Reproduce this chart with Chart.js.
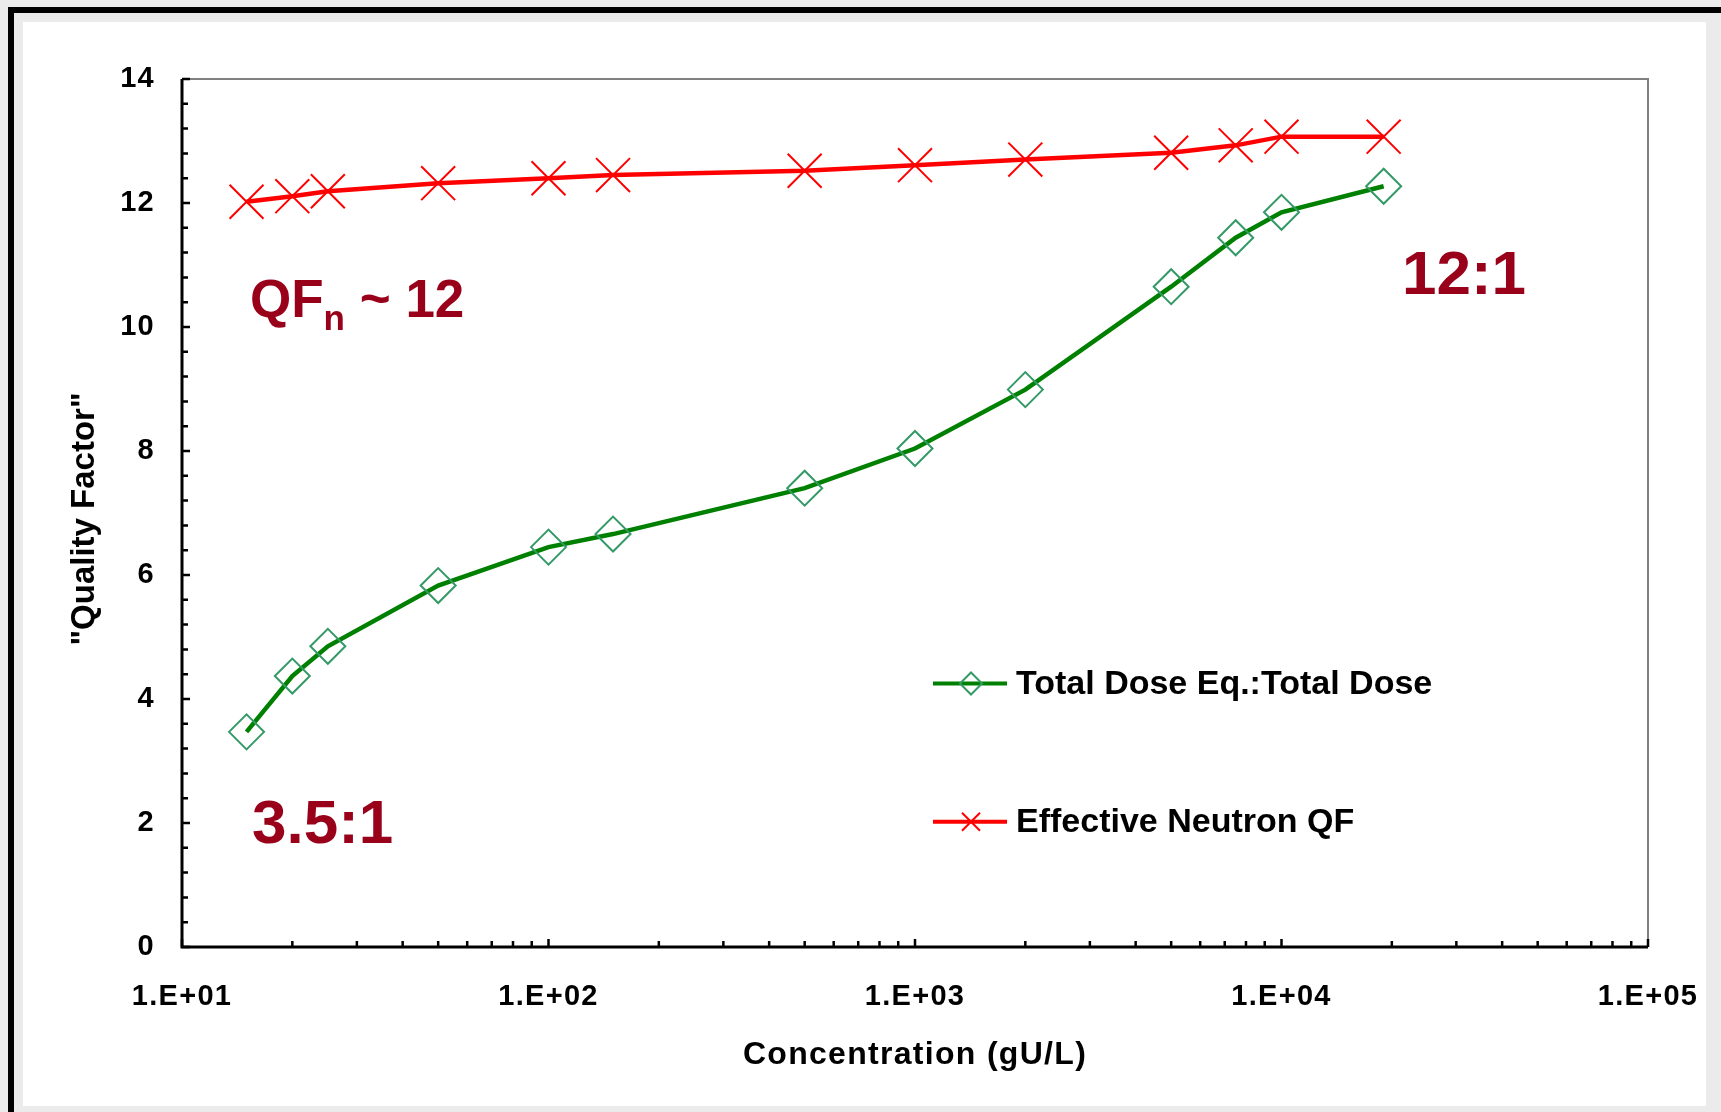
<!DOCTYPE html>
<html>
<head>
<meta charset="utf-8">
<script src="https://cdn.jsdelivr.net/npm/chart.js@4.4.1/dist/chart.umd.min.js"></script>
<style>
  html, body { margin: 0; padding: 0; background: #ebebeb; overflow: hidden; }
  #frame { position: absolute; left: 8px; top: 7px; right: 0; bottom: 0; border-top: 6px solid #000; border-left: 6px solid #000; }
  #panel { position: absolute; left: 23px; top: 22px; width: 1683px; height: 1084px; background: #fff; }
  #qf { position: absolute; left: 0; top: 0; }
</style>
</head>
<body>
<div id="frame"></div>
<div id="panel"></div>
<canvas id="qf" width="1721" height="1112"></canvas>
<script>
// concentration in gU/L
const concentration = [15, 20, 25, 50, 100, 150, 500, 1000, 2000, 5000, 7500, 10000, 19000];
// total dose equivalent : total dose
const doseRatio = [3.47, 4.37, 4.85, 5.83, 6.45, 6.66, 7.40, 8.04, 8.99, 10.65, 11.44, 11.85, 12.27];
// effective neutron QF
const neutronQF = [12.02, 12.11, 12.19, 12.32, 12.40, 12.45, 12.52, 12.61, 12.70, 12.81, 12.93, 13.07, 13.07];

const xTickValues = [10, 100, 1000, 10000, 100000];
const xTickLabels = ['1.E+01', '1.E+02', '1.E+03', '1.E+04', '1.E+05'];
const yTickValues = [0, 2, 4, 6, 8, 10, 12, 14];
const yTickLabels = ['0', '2', '4', '6', '8', '10', '12', '14'];

const seriesNames = ['Total Dose Eq.:Total Dose', 'Effective Neutron QF'];

const FONT = '"Liberation Sans", Arial, sans-serif';
const DARK_RED = '#99001a';

// axes, inner tick marks and the grey plot border
const plotFrame = {
  id: 'plotFrame',
  beforeDraw(chart) {
    chart.ctx.letterSpacing = '1.3px';
  },
  beforeDatasetsDraw(chart) {
    const ctx = chart.ctx, a = chart.chartArea;
    const xs = chart.scales.x, ys = chart.scales.y;
    ctx.save();
    ctx.letterSpacing = '0px';
    ctx.strokeStyle = '#808080';
    ctx.lineWidth = 2;
    ctx.beginPath();
    ctx.moveTo(a.left, a.top);
    ctx.lineTo(a.right, a.top);
    ctx.lineTo(a.right, a.bottom);
    ctx.stroke();

    ctx.strokeStyle = '#000';
    ctx.lineWidth = 2.5;
    ctx.beginPath();
    // y minor every 0.4, major every 2
    for (let i = 0; i <= 35; i++) {
      const py = ys.getPixelForValue(i * 0.4);
      const len = i % 5 === 0 ? 8 : 6;
      ctx.moveTo(a.left, py);
      ctx.lineTo(a.left + len, py);
    }
    // x decades and 2..9 subdivisions
    for (let d = 10; d <= 100000; d *= 10) {
      for (let m = 1; m <= 9; m++) {
        const v = d * m;
        if (v > 100000) break;
        const px = xs.getPixelForValue(v);
        const len = m === 1 ? 8 : 6;
        ctx.moveTo(px, a.bottom);
        ctx.lineTo(px, a.bottom - len);
      }
    }
    ctx.stroke();

    ctx.lineWidth = 3;
    ctx.beginPath();
    ctx.moveTo(a.left, a.top);
    ctx.lineTo(a.left, a.bottom);
    ctx.lineTo(a.right, a.bottom);
    ctx.stroke();
    ctx.restore();
  }
};

function drawDiamond(ctx, x, y, r) {
  ctx.beginPath();
  ctx.moveTo(x - r, y);
  ctx.lineTo(x, y - r);
  ctx.lineTo(x + r, y);
  ctx.lineTo(x, y + r);
  ctx.closePath();
  ctx.stroke();
}

function drawCross(ctx, x, y, h) {
  ctx.beginPath();
  ctx.moveTo(x - h, y - h);
  ctx.lineTo(x + h, y + h);
  ctx.moveTo(x + h, y - h);
  ctx.lineTo(x - h, y + h);
  ctx.stroke();
}

// y title, legend and the ratio notes
const notes = {
  id: 'notes',
  afterDraw(chart) {
    const ctx = chart.ctx, a = chart.chartArea;
    ctx.save();
    ctx.letterSpacing = '0px';

    // y axis title
    ctx.save();
    ctx.translate(84.5, a.top + 440);
    ctx.rotate(-Math.PI / 2);
    ctx.font = 'bold 33px ' + FONT;
    ctx.fillStyle = '#000';
    ctx.textAlign = 'center';
    ctx.textBaseline = 'middle';
    ctx.fillText('"Quality Factor"', 0, 0);
    ctx.restore();

    // legend
    const lx = a.left + 751, tx = a.left + 834;
    const rows = [a.top + 604.5, a.top + 742.7];
    const ds = chart.data.datasets;
    ctx.font = 'bold 34px ' + FONT;
    ctx.textBaseline = 'alphabetic';
    ctx.textAlign = 'left';
    rows.forEach((ry, i) => {
      ctx.strokeStyle = ds[i].borderColor;
      ctx.lineWidth = 4;
      ctx.beginPath();
      ctx.moveTo(lx, ry);
      ctx.lineTo(lx + 74, ry);
      ctx.stroke();
      ctx.strokeStyle = ds[i].pointBorderColor;
      ctx.lineWidth = 2;
      if (i === 0) drawDiamond(ctx, lx + 38, ry, 11);
      else drawCross(ctx, lx + 38, ry, 9);
      ctx.fillStyle = '#000';
      ctx.fillText(ds[i].label, tx, ry + 10.5);
    });

    // notes
    ctx.fillStyle = DARK_RED;
    ctx.font = 'bold 53px ' + FONT;
    let x = a.left + 68;
    const by = a.top + 238;
    ctx.fillText('QF', x, by);
    x += ctx.measureText('QF').width;
    ctx.font = 'bold 35px ' + FONT;
    ctx.fillText('n', x, by + 13);
    x += ctx.measureText('n').width;
    ctx.font = 'bold 53px ' + FONT;
    ctx.fillText(' ~ 12', x, by);

    ctx.font = 'bold 62px ' + FONT;
    ctx.fillText('12:1', a.left + 1220, a.top + 214.5);
    ctx.fillText('3.5:1', a.left + 70, a.top + 764);
    ctx.restore();
  }
};

const toPoints = vals => concentration.map((c, i) => ({ x: c, y: vals[i] }));

new Chart(document.getElementById('qf'), {
  type: 'line',
  data: {
    datasets: [
      {
        label: seriesNames[0],
        data: toPoints(doseRatio),
        borderColor: '#008000',
        borderWidth: 4.5,
        tension: 0,
        pointStyle: 'rectRot',
        pointRadius: 17.5,
        pointBorderColor: '#339966',
        pointBackgroundColor: 'rgba(0,0,0,0)',
        pointBorderWidth: 2,
        clip: false
      },
      {
        label: seriesNames[1],
        data: toPoints(neutronQF),
        borderColor: '#ff0000',
        borderWidth: 4.5,
        tension: 0,
        pointStyle: 'crossRot',
        pointRadius: 24,
        pointBorderColor: '#ff0000',
        pointBorderWidth: 2,
        clip: false
      }
    ]
  },
  options: {
    responsive: false,
    devicePixelRatio: 1,
    animation: false,
    events: [],
    layout: { padding: { left: 0, top: 79, right: 73, bottom: 0 } },
    plugins: {
      legend: { display: false },
      tooltip: { enabled: false }
    },
    scales: {
      x: {
        type: 'logarithmic',
        min: 10,
        max: 100000,
        grid: { display: false, drawTicks: false },
        border: { display: false },
        afterBuildTicks: s => { s.ticks = xTickValues.map(v => ({ value: v })); },
        afterFit: s => { s.height = 165; s.paddingLeft = 0; s.paddingRight = 0; },
        ticks: {
          autoSkip: false,
          maxRotation: 0,
          padding: 33,
          color: '#000',
          font: { family: FONT, size: 29, weight: 'bold' },
          callback: (v, i) => xTickLabels[i]
        },
        title: {
          display: true,
          text: 'Concentration (gU/L)',
          color: '#000',
          font: { family: FONT, size: 32, weight: 'bold' },
          padding: { top: 0, bottom: 38 }
        }
      },
      y: {
        min: 0,
        max: 14,
        grid: { display: false, drawTicks: false },
        border: { display: false },
        afterBuildTicks: s => { s.ticks = yTickValues.map(v => ({ value: v })); },
        afterFit: s => { s.width = 182; s.paddingTop = 0; s.paddingBottom = 0; },
        ticks: {
          padding: 27,
          color: '#000',
          font: { family: FONT, size: 29, weight: 'bold' },
          callback: (v, i) => yTickLabels[i]
        }
      }
    }
  },
  plugins: [plotFrame, notes]
});
</script>
</body>
</html>
